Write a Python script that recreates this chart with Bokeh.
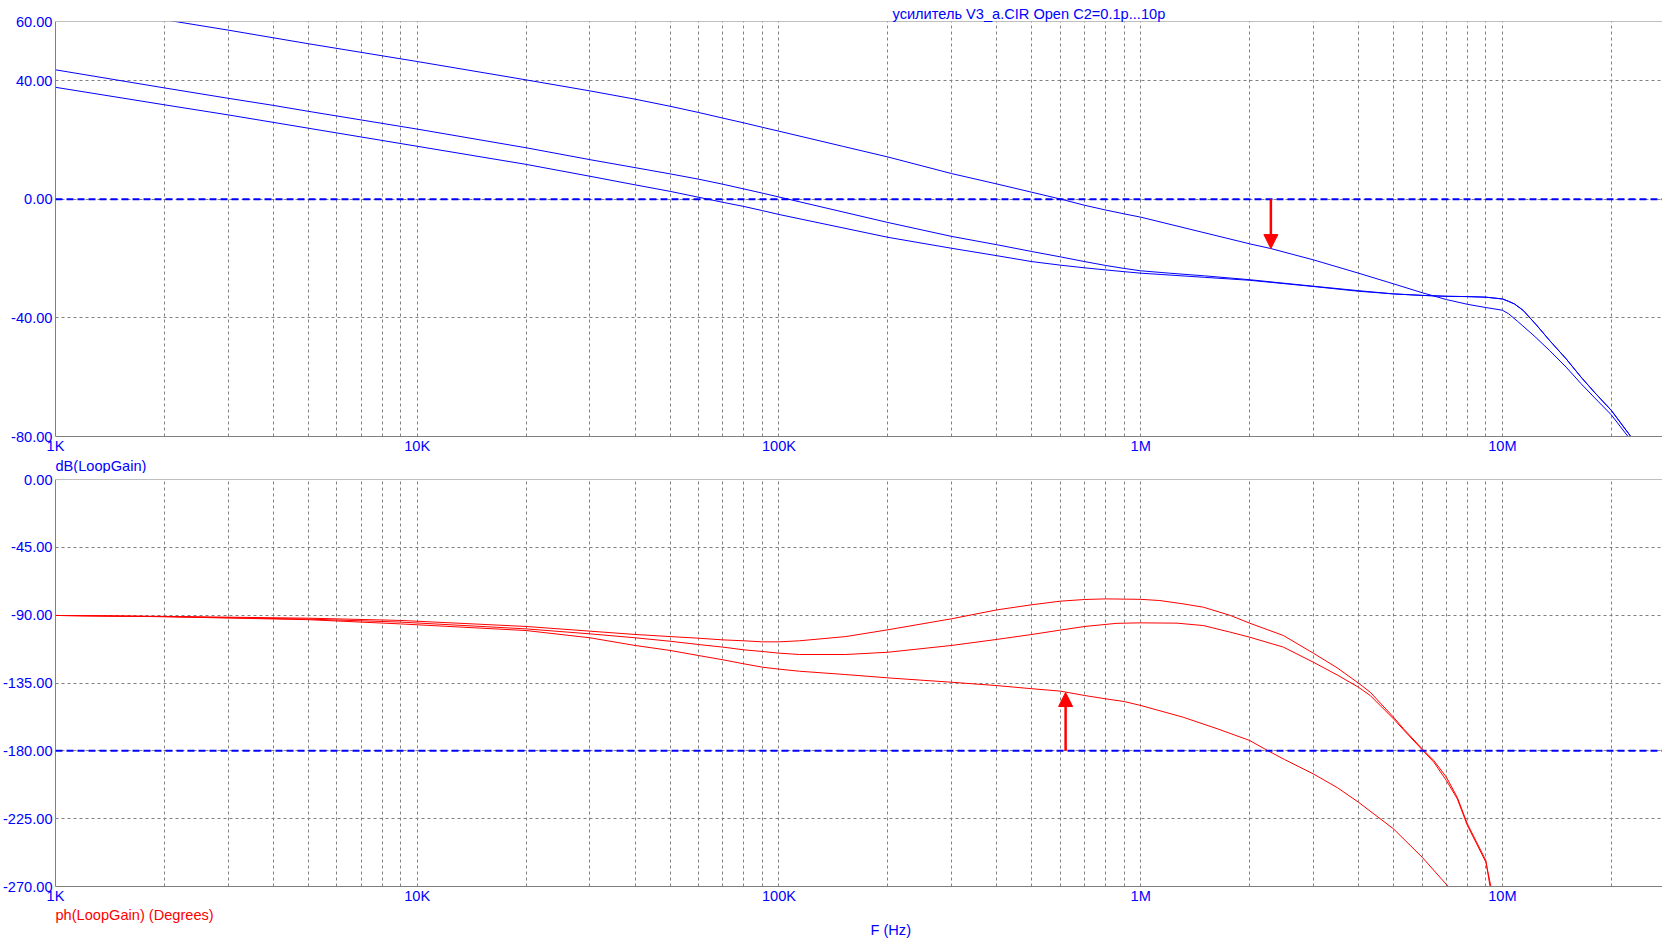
from bokeh.plotting import figure
from bokeh.layouts import column
from bokeh.models import (FixedTicker, PrintfTickFormatter, CustomJSTickFormatter, Span, Title,
                          Arrow, NormalHead, Range1d)
from bokeh.embed import file_html
from bokeh.resources import INLINE

FONT = "Liberation Sans"
FS = "14.6px"
BLUE = "#0000FF"
RED = "#FF0000"
GRAY = "#808080"

# ---------------- data ----------------
major_ticks = [1e3, 1e4, 1e5, 1e6, 1e7]
tick_labels = ["1K", "10K", "100K", "1M", "10M"]
mag_ticks = [60, 40, 0, -40, -80]
phase_ticks = [0, -45, -90, -135, -180, -225, -270]

freq_A = [1e3, 2e3, 3e3, 5e3, 1e4, 2e4, 3e4, 4e4, 5e4, 6e4, 7e4, 8e4, 9e4, 1e5, 1.5e5, 2e5, 3e5,
          4e5, 5e5, 6e5, 7e5, 8e5, 9e5, 1e6, 2e6, 2.29e6, 3e6, 4e6, 5e6, 6e6, 7e6, 8e6, 9e6, 1e7,
          1.04e7, 1.1e7, 1.23e7, 1.35e7, 1.5e7, 1.65e7, 1.8e7, 2e7, 2.23e7, 2.5e7]
db_A = [66.5, 60.6, 57.1, 52.5, 46.5, 40.3, 36.6, 33.8, 31.4, 29.3, 27.4, 25.8, 24.3, 23.0, 17.9,
        14.3, 8.7, 5.2, 2.4, 0.1, -2.0, -3.6, -4.9, -6.0, -15.0, -16.6, -20.4, -24.9, -28.5,
        -31.5, -33.8, -35.4, -36.5, -37.4, -38.6, -41.1, -46.3, -51.0, -56.6, -62.2, -67.0,
        -72.7, -80.2, -88.0]

freq_B = [1e3, 2e3, 3e3, 4e3, 5e3, 1e4, 2e4, 3e4, 4e4, 5e4, 6e4, 7e4, 8e4, 9e4, 1e5, 2e5, 3e5,
          4e5, 5e5, 6e5, 7e5, 8e5, 9e5, 1e6, 1.2e6, 1.5e6, 2e6, 3e6, 4e6, 5e6, 6e6, 7e6, 8e6,
          9e6, 1e7, 1.04e7, 1.08e7, 1.14e7, 1.24e7, 1.35e7, 1.5e7, 1.65e7, 1.8e7, 2e7, 2.27e7,
          2.5e7]
db_B = [43.7, 37.6, 34.1, 31.7, 29.7, 23.7, 17.4, 13.4, 10.7, 8.6, 6.8, 5.1, 3.5, 2.1, 0.8, -7.8,
        -12.5, -15.3, -17.6, -19.4, -21.0, -22.3, -23.3, -24.1, -24.9, -25.8, -27.1, -29.3,
        -30.8, -31.9, -32.4, -32.7, -32.8, -33.0, -33.6, -34.4, -35.3, -37.4, -42.3, -47.6,
        -53.8, -60.0, -65.2, -71.2, -80.2, -87.0]

freq_C = [1e3, 2e3, 3e3, 5e3, 1e4, 2e4, 3e4, 4e4, 5e4, 6e4, 7e4, 8e4, 9e4, 1e5, 2e5, 3e5, 4e5,
          5e5, 6e5, 7e5, 8e5, 9e5, 1e6, 1.5e6, 2e6, 3e6, 4e6, 5e6, 6e6, 7e6, 8e6, 9e6, 1e7,
          1.04e7, 1.08e7, 1.14e7, 1.24e7, 1.35e7, 1.5e7, 1.65e7, 1.8e7, 2e7, 2.27e7, 2.5e7]
db_C = [37.8, 31.9, 28.5, 24.0, 17.9, 11.8, 7.8, 4.9, 2.7, 0.7, -1.0, -2.4, -3.8, -5.1, -12.8,
        -16.5, -19.0, -21.0, -22.2, -23.1, -23.8, -24.4, -24.9, -26.3, -27.3, -29.4, -31.0,
        -31.9, -32.4, -32.7, -32.8, -33.0, -33.6, -34.4, -35.3, -37.4, -42.3, -47.6, -53.8,
        -60.0, -65.2, -71.2, -80.2, -87.0]

freq_P1 = [1e3, 2e3, 5e3, 9e3, 2e4, 3e4, 4e4, 5e4, 6e4, 7e4, 8e4, 9e4, 1e5, 1.14e5, 1.53e5, 2e5,
           3e5, 4e5, 5e5, 6e5, 7e5, 8e5, 1e6, 1.13e6, 1.31e6, 1.49e6, 1.77e6, 2e6, 2.48e6, 3e6,
           3.49e6, 4e6, 4.31e6, 5e6, 5.33e6, 6e6, 6.46e6, 7e6, 7.5e6, 8e6, 9e6, 9.23e6, 9.6e6]
ph_P1 = [-90.2, -90.8, -92.0, -93.5, -97.5, -100.6, -102.8, -104.2, -105.3, -106.4, -107.0,
         -107.7, -107.7, -107.0, -104.2, -99.7, -92.4, -86.5, -83.1, -80.7, -79.6, -79.2, -79.5,
         -80.3, -82.5, -84.7, -90.2, -95.3, -103.5, -115.2, -124.9, -135.1, -141.1, -157.7,
         -165.4, -178.7, -186.4, -197.5, -210.8, -228.4, -252.8, -269.3, -285.0]

freq_P2 = [1e3, 2e3, 5e3, 9e3, 2e4, 3e4, 4e4, 5e4, 6e4, 7e4, 8e4, 9e4, 1e5, 1.14e5, 1.53e5, 2e5,
           3e5, 4e5, 5e5, 6e5, 7e5, 8.6e5, 1e6, 1.26e6, 1.49e6, 1.77e6, 2e6, 2.48e6, 3e6, 3.49e6,
           4e6, 4.31e6, 5e6, 5.33e6, 6e6, 6.46e6, 7e6, 7.5e6, 8e6, 9e6, 9.3e6, 9.7e6]
ph_P2 = [-90.2, -91.0, -92.6, -94.6, -99.1, -102.4, -105.0, -107.3, -109.5, -111.2, -113.0,
         -114.1, -115.2, -116.1, -116.1, -114.6, -110.1, -106.1, -102.8, -99.9, -97.5, -95.4,
         -95.1, -95.3, -96.9, -101.3, -104.6, -111.2, -121.2, -129.6, -137.8, -143.3, -158.8,
         -166.1, -179.3, -187.5, -199.7, -211.8, -229.5, -253.9, -270.5, -287.0]

freq_P3 = [1e3, 2e3, 5e3, 9e3, 2e4, 3e4, 4e4, 5e4, 6e4, 7e4, 8e4, 9e4, 1e5, 1.14e5, 1.53e5, 2e5,
           3e5, 4e5, 5e5, 6e5, 7e5, 8e5, 9e5, 1e6, 1.31e6, 1.63e6, 2e6, 2.25e6, 2.5e6, 3e6, 3.5e6,
           4e6, 5e6, 6e6, 7.11e6, 7.6e6]
ph_P3 = [-90.2, -91.0, -93.0, -95.8, -100.2, -105.0, -110.1, -113.4, -116.8, -119.6, -122.3,
         -124.5, -125.8, -127.2, -129.4, -131.6, -134.5, -136.7, -138.8, -140.4, -143.3, -145.5,
         -147.3, -149.9, -157.7, -165.4, -173.1, -180.0, -185.8, -195.3, -204.5, -214.1, -231.8,
         -250.6, -270.5, -280.0]

# margin markers
gm_freq = 2.29e6
gm_db = -16.6
pm_freq = 6.2e5
pm_deg = -141.3

title_text = "усилитель V3_a.CIR Open C2=0.1p...10p"
mag_label = "dB(LoopGain)"
phase_label = "ph(LoopGain) (Degrees)"
x_label = "F (Hz)"

# ---------------- layout ----------------
W = 1662
LEFT = 55
X_END = 2.77e7
minor = [m * 10 ** d for d in range(3, 8) for m in range(2, 10)]

fmt_x = CustomJSTickFormatter(args=dict(majors=major_ticks, labs=tick_labels), code="""
const i = majors.findIndex(t => Math.abs(t - tick) / t < 1e-6);
return i >= 0 ? labs[i] : "";
""")


def make_title(text, color, offset, standoff=0):
    return Title(text=text, align="left", offset=offset, standoff=standoff, text_font=FONT,
                 text_font_size=FS, text_font_style="normal", text_color=color,
                 text_line_height=1.0)


def style(p, yticks, y_end):
    p.outline_line_color = None
    p.background_fill_color = "white"
    p.border_fill_color = "white"
    p.xaxis.ticker = FixedTicker(ticks=major_ticks, minor_ticks=minor)
    p.xaxis.formatter = fmt_x
    p.yaxis.ticker = FixedTicker(ticks=yticks)
    p.yaxis.formatter = PrintfTickFormatter(format="%.2f")
    for ax in (p.xaxis, p.yaxis):
        ax.axis_line_color = GRAY
        ax.axis_line_width = 1
        ax.major_tick_line_color = None
        ax.minor_tick_line_color = None
        ax.major_tick_out = 0
        ax.major_tick_in = 0
        ax.minor_tick_out = 0
        ax.major_label_text_font = FONT
        ax.major_label_text_color = BLUE
        ax.major_label_text_font_size = FS
    p.yaxis.major_label_standoff = 3
    p.xaxis.major_label_standoff = 1
    for g in (p.xgrid, p.ygrid):
        g.grid_line_color = GRAY
        g.grid_line_dash = "3 3"
        g.grid_line_width = 1
    p.xgrid.minor_grid_line_color = GRAY
    p.xgrid.minor_grid_line_dash = "3 3"
    p.add_layout(Span(location=y_end, dimension="width", line_color=GRAY, line_width=1))


# top: magnitude
p1 = figure(width=W, height=473, x_axis_type="log", x_range=Range1d(1e3, X_END),
            y_range=Range1d(-80, 60), output_backend="svg", toolbar_location=None,
            min_border_left=LEFT, min_border_right=0, min_border_top=21, min_border_bottom=37)
p1.title = make_title(title_text, BLUE, 837)
style(p1, mag_ticks, 60)
p1.add_layout(Span(location=0, dimension="width", line_color=BLUE, line_width=2, line_dash="7 4"))
for fx, fy in ((freq_A, db_A), (freq_B, db_B), (freq_C, db_C)):
    p1.line(fx, fy, line_color=BLUE, line_width=1)
p1.add_layout(Arrow(end=NormalHead(size=14, fill_color=RED, line_color=RED), x_start=gm_freq,
                    y_start=0, x_end=gm_freq, y_end=gm_db, line_color=RED, line_width=2.5))
p1.add_layout(make_title(mag_label, BLUE, 0, standoff=-2), "below")

# bottom: phase
p2 = figure(width=W, height=469, x_axis_type="log", x_range=Range1d(1e3, X_END),
            y_range=Range1d(-270, 0), output_backend="svg", toolbar_location=None,
            min_border_left=LEFT, min_border_right=0, min_border_top=6, min_border_bottom=56)
style(p2, phase_ticks, 0)
p2.add_layout(Span(location=-180, dimension="width", line_color=BLUE, line_width=2, line_dash="7 4"))
for fx, fy in ((freq_P1, ph_P1), (freq_P2, ph_P2), (freq_P3, ph_P3)):
    p2.line(fx, fy, line_color=RED, line_width=1)
p2.add_layout(Arrow(end=NormalHead(size=14, fill_color=RED, line_color=RED), x_start=pm_freq,
                    y_start=-180, x_end=pm_freq, y_end=pm_deg, line_color=RED, line_width=2.5))
p2.add_layout(make_title(phase_label, RED, 0, standoff=-4), "below")
p2.add_layout(make_title(x_label, BLUE, 815, standoff=-1), "below")

layout = column(p1, p2, spacing=0)
open("out.html", "w").write(file_html(layout, INLINE))
